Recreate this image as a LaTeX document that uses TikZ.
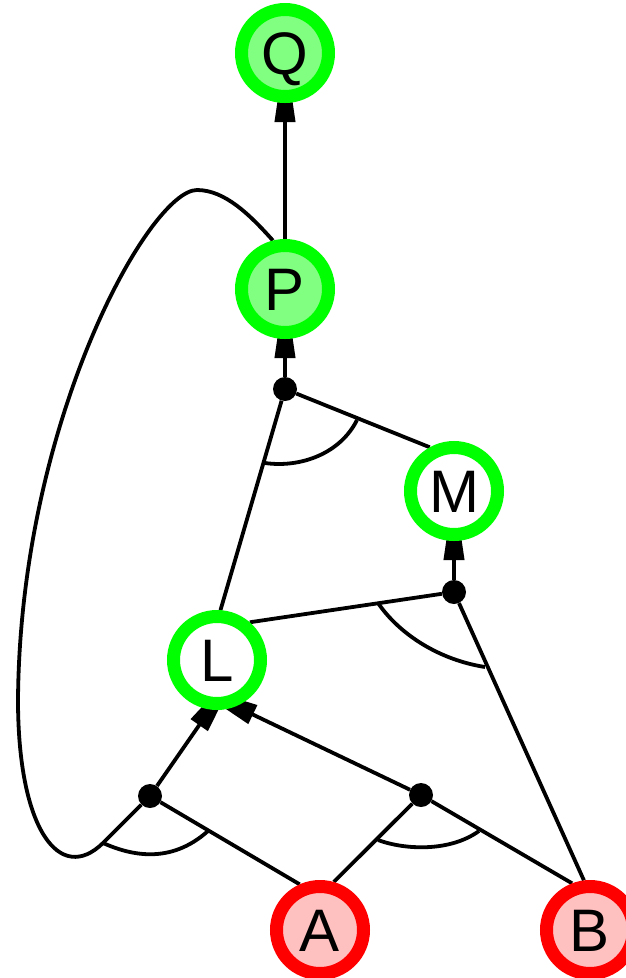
\documentclass[tikz,border=0pt]{standalone}
\usepackage{fontspec}
\setmainfont{Liberation Sans}
\usetikzlibrary{arrows.meta,backgrounds}
\definecolor{ringgreen}{RGB}{0,255,0}
\definecolor{fillgreen}{RGB}{128,255,128}
\definecolor{ringred}{RGB}{255,0,0}
\definecolor{fillred}{RGB}{255,192,192}
\tikzset{
  state/.style={circle, line width=13pt, minimum size=87pt, inner sep=0pt,
    font=\fontsize{60}{60}\selectfont, text height=43pt, text depth=0pt},
  goal/.style={state, draw=ringgreen, fill=fillgreen},
  mid/.style={state, draw=ringgreen, fill=white},
  src/.style={state, draw=ringred, fill=fillred},
  junc/.style={circle, fill=black, minimum size=24pt, inner sep=0pt},
  edge/.style={line width=3.8pt},
  arr/.style={edge, -{Triangle[length=72pt,width=20pt]}, shorten >=-53pt},
  andarc/.style={line width=3.8pt},
}
\begin{document}
\begin{tikzpicture}[x=1pt,y=-1pt]
\useasboundingbox (0,0) rectangle (626,978);
\clip (0,0) rectangle (626,978);
% states
\node[goal] (Q) at (285,53) {Q};
\node[goal] (P) at (285,289) {P};
\node[mid]  (M) at (454,491) {M};
\node[mid]  (L) at (217,660) {L};
\node[src]  (A) at (320,930) {A};
\node[src]  (B) at (590,930) {B};
% junctions
\node[junc] (j1) at (285,389) {};
\node[junc] (j2) at (454,592) {};
\node[junc] (j3) at (150,796) {};
\node[junc] (j4) at (421,795) {};
\begin{pgfonlayer}{background}
% edges
\draw[arr] (P) -- (Q);
\draw[arr] (j1) -- (P);
\draw[edge] (j1) -- (L.86);
\draw[edge] (j1) -- (M.119);
\draw[arr] (j2) -- (M);
\draw[edge] (j2) -- (L.49);
\draw[edge] (j2) -- (B.97);
\draw[arr] (j3) -- (L.262);
\draw[arr] (j4) -- (L.292);
\draw[edge] (j3) -- (A.114);
\draw[edge] (j4) -- (A.74);
\draw[edge] (j4) -- (B.111);
% loop from j3 back to P
\coordinate (lp1) at (103,843);
\coordinate (lp2) at (18,700);
\coordinate (lp3) at (197,190);
\draw[edge] (j3) -- (lp1)
  .. controls (60,885) and (18,830) .. (lp2)
  .. controls (20,420) and (150,190) .. (lp3)
  .. controls (225,190) and (250,215) .. (P.104);
\end{pgfonlayer}
% and-arcs
\draw[andarc] (265,463) .. controls (300,468) and (340,454) .. (357,420);
\draw[andarc] (378,603) .. controls (400,635) and (440,660) .. (485,667);
\draw[andarc] (103,843) .. controls (130,855) and (170,865) .. (208,831);
\draw[andarc] (378,840) .. controls (405,850) and (450,852) .. (479,831);
\end{tikzpicture}
\end{document}
